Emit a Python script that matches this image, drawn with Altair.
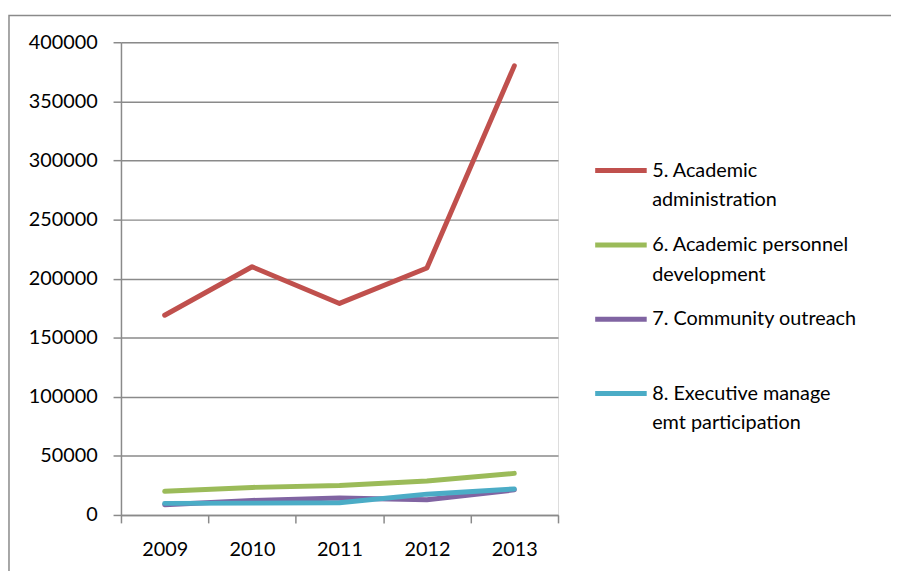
import altair as alt
import pandas as pd

years = ["2009", "2010", "2011", "2012", "2013"]
series = [
    "5. Academic|administration",
    "6. Academic personnel|development",
    "7. Community outreach",
    "8. Executive manage|emt participation",
]
academic_admin = [169000, 210000, 179000, 209000, 380000]
personnel_dev = [20000, 23300, 24900, 28800, 35200]
community = [8700, 12300, 14300, 12800, 21200]
executive = [9800, 10000, 10300, 17600, 22000]
colors = ["#C0504D", "#9BBB59", "#8064A2", "#4BACC6"]
y_ticks = [0, 50000, 100000, 150000, 200000, 250000, 300000, 350000, 400000]

rows = []
for name, vals in zip(series, [academic_admin, personnel_dev, community, executive]):
    for yr, v in zip(years, vals):
        rows.append({"year": yr, "series": name, "value": v})
df = pd.DataFrame(rows)

GRAY = "#8a8a8a"
FONT = "Lato"

frame = alt.Chart(pd.DataFrame({"a": [0]})).mark_rect(
    fill=None, stroke=GRAY, strokeWidth=1.5
).encode(
    x=alt.value(-113), x2=alt.value(900), y=alt.value(-27), y2=alt.value(700)
)

lines = alt.Chart(df).mark_line(strokeWidth=5, strokeCap="round", strokeJoin="round").encode(
    x=alt.X("year:N", sort=years, title=None,
            scale=alt.Scale(paddingInner=0, paddingOuter=0),
            axis=alt.Axis(labelAngle=0, tickBand="extent", labelFontSize=20,
                          labelFont=FONT, labelColor="#000000", labelPadding=17,
                          tickSize=8, tickColor=GRAY, tickWidth=1.5,
                          domainColor=GRAY, domainWidth=1.5, grid=False)),
    y=alt.Y("value:Q", title=None,
            scale=alt.Scale(domain=[0, 400000], nice=False, zero=True),
            axis=alt.Axis(values=y_ticks, format="d", labelFontSize=20, labelFont=FONT,
                          labelColor="#000000", labelPadding=16, tickSize=8,
                          tickColor=GRAY, tickWidth=1.5, domainColor=GRAY,
                          domainWidth=1.5, grid=True, gridColor=GRAY, gridWidth=1.5)),
    color=alt.Color("series:N", sort=series,
                    scale=alt.Scale(domain=series, range=colors),
                    legend=alt.Legend(title=None, orient="none", legendX=476, legendY=101,
                                      symbolType="stroke", symbolSize=2704,
                                      symbolStrokeWidth=5, labelFontSize=20,
                                      labelFont=FONT, labelColor="#000000",
                                      labelLimit=400,
                                      labelExpr="split(datum.label, '|')",
                                      gridAlign="all", rowPadding=6, labelOffset=3)),
)

chart = alt.layer(frame, lines).properties(
    width=441, height=477,
    autosize=alt.AutoSizeParams(type="none"),
    padding={"left": 114, "top": 32, "right": 336, "bottom": 54},
).configure_view(stroke=None).configure(
    background="#ffffff",
    style={"guide-label": {"lineHeight": 30}},
)

chart.save("out.html", embed_options={"renderer": "svg", "actions": False})
